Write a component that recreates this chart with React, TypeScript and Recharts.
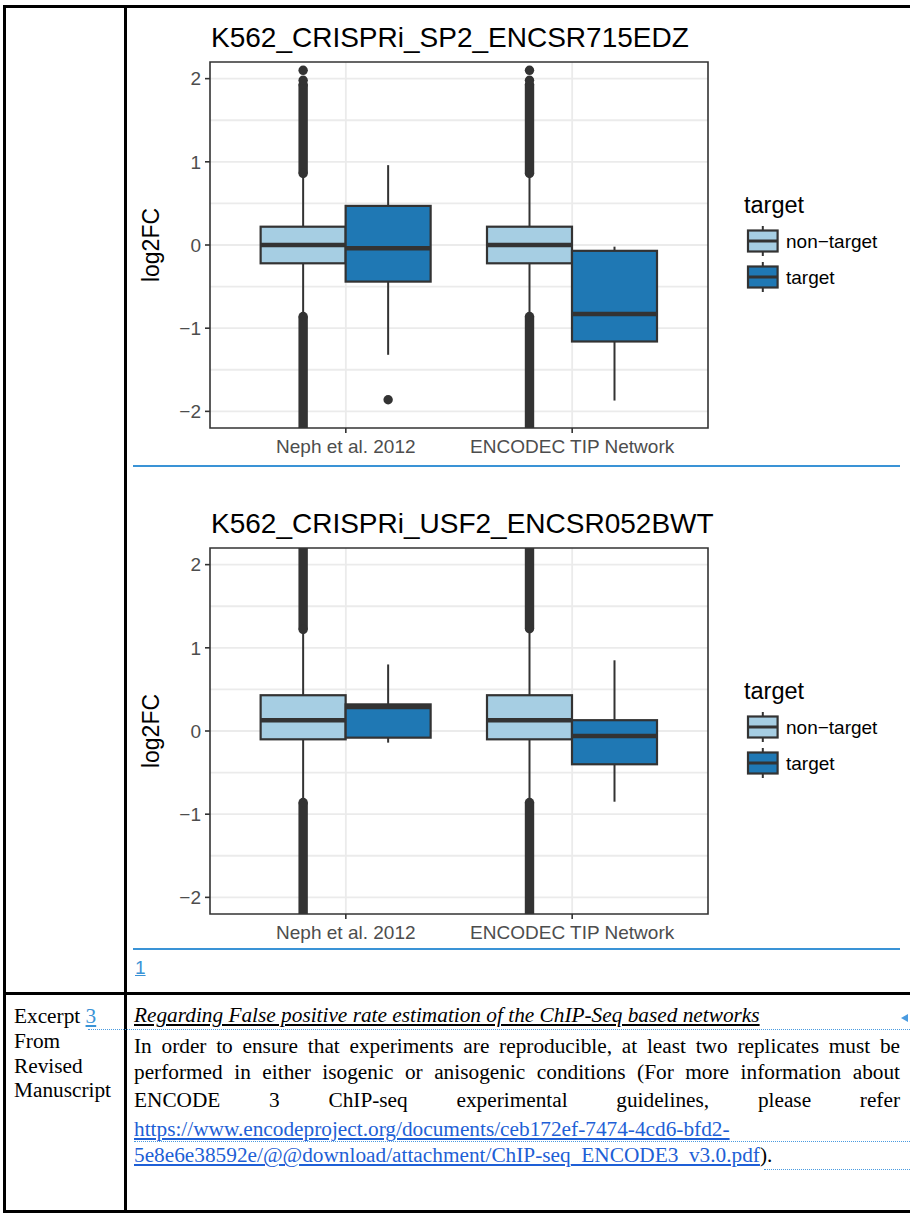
import React from "react"
import { ComposedChart, Bar, XAxis, YAxis, CartesianGrid, ReferenceArea, Legend } from "recharts"

const GROUPS = ["Neph et al. 2012", "ENCODEC TIP Network"]
const SERIES_NAMES = ["non\u2212target", "target"]
const SERIES_COLORS = ["#A6CEE3", "#1F78B4"]

// discrete positions like ggplot: groups at 1 and 2, panel from 0.4 to 2.6
const X_POS = [1, 2]
const X_DOMAIN = [0.4, 2.6]
const Y_DOMAIN = [-2.2, 2.2]
const Y_TICKS = [-2, -1, 0, 1, 2]
const Y_GRID = [-2, -1.5, -1, -0.5, 0, 0.5, 1, 1.5, 2]

// [lower whisker, Q1, median, Q3, upper whisker] per group
const sp2NonTarget = [[-0.84, -0.22, 0, 0.22, 0.84], [-0.84, -0.22, 0, 0.22, 0.84]]
const sp2Target = [[-1.32, -0.44, -0.04, 0.47, 0.96], [-1.87, -1.16, -0.83, -0.07, -0.02]]
// outliers so dense they merge into a solid bar: [from, to]
const sp2NonTargetBands = [[[0.86, 1.93], [-2.6, -0.86]], [[0.86, 1.93], [-2.6, -0.86]]]
const sp2TargetBands = [[], []]
const sp2NonTargetPoints = [[1.98, 2.1], [1.98, 2.1]]
const sp2TargetPoints = [[-1.86], []]

const usf2NonTarget = [[-0.85, -0.1, 0.13, 0.43, 1.2], [-0.85, -0.1, 0.13, 0.43, 1.21]]
const usf2Target = [[-0.14, -0.08, 0.29, 0.32, 0.8], [-0.85, -0.4, -0.06, 0.13, 0.85]]
const usf2NonTargetBands = [[[1.22, 2.6], [-2.6, -0.86]], [[1.23, 2.6], [-2.6, -0.86]]]
const usf2TargetBands = [[], []]
const usf2NonTargetPoints = [[], []]
const usf2TargetPoints = [[], []]

const INK = "#333333"
const DOT_R = 4.7
const SANS = "'Liberation Sans', Arial, sans-serif"
const SERIF = "'Liberation Serif', 'Times New Roman', serif"

type Box = { stats: number[]; bands: number[][]; points: number[] }

function buildRows(nt: number[][], t: number[][], ntBands: number[][][], tBands: number[][][], ntPts: number[][], tPts: number[][]) {
  return GROUPS.map((g, i) => ({
    group: g,
    pos: X_POS[i],
    ntRange: [nt[i][0], nt[i][4]],
    tRange: [t[i][0], t[i][4]],
    nt: { stats: nt[i], bands: ntBands[i], points: ntPts[i] },
    t: { stats: t[i], bands: tBands[i], points: tPts[i] },
  }))
}

// draws one box from the bar the library placed for the whisker range
function BoxGlyph(props: any) {
  const { x, y, width, height, fill, box } = props as { x: number; y: number; width: number; height: number; fill: string; box: Box }
  const [lo, q1, med, q3, hi] = box.stats
  const top = Math.min(y, y + height)
  const ppu = Math.abs(height) / (hi - lo)
  const Y = (v: number) => top + (hi - v) * ppu
  const edgeTop = Y(Y_DOMAIN[1])
  const edgeBot = Y(Y_DOMAIN[0])
  const cx = x + width / 2

  return (
    <g>
      {box.bands.map(([a, b], k) => {
        const yt = Math.max(Y(b), edgeTop)
        const yb = Math.min(Y(a), edgeBot)
        return (
          <g key={"b" + k}>
            <rect x={cx - DOT_R} y={yt} width={DOT_R * 2} height={yb - yt} fill={INK} />
            {Y(b) > edgeTop && <circle cx={cx} cy={yt} r={DOT_R} fill={INK} />}
            {Y(a) < edgeBot && <circle cx={cx} cy={yb} r={DOT_R} fill={INK} />}
          </g>
        )
      })}
      {box.points.map((v, k) => (
        <circle key={"p" + k} cx={cx} cy={Y(v)} r={DOT_R} fill={INK} />
      ))}
      <line x1={cx} x2={cx} y1={Y(hi)} y2={Y(q3)} stroke={INK} strokeWidth={2} />
      <line x1={cx} x2={cx} y1={Y(q1)} y2={Y(lo)} stroke={INK} strokeWidth={2} />
      <rect x={x} y={Y(q3)} width={width} height={Y(q1) - Y(q3)} fill={fill} stroke={INK} strokeWidth={2.2} />
      <line x1={x} x2={x + width} y1={Y(med)} y2={Y(med)} stroke={INK} strokeWidth={4.5} />
    </g>
  )
}

function LegendBox({ payload }: any) {
  const items = SERIES_NAMES.map((n, i) => {
    const p = (payload || []).find((e: any) => e.value === n)
    return { name: n, color: (p && p.color) || SERIES_COLORS[i] }
  })
  return (
    <svg width={170} height={110} style={{ fontFamily: SANS, display: "block" }}>
      <text x={2} y={23} fontSize={23.5} fill="#000">target</text>
      {items.map((it, i) => {
        const cy = 51 + i * 36
        return (
          <g key={it.name}>
            <line x1={20.8} x2={20.8} y1={cy - 15} y2={cy + 15} stroke={INK} strokeWidth={2} />
            <rect x={6} y={cy - 10.5} width={29.6} height={21} fill={it.color} stroke={INK} strokeWidth={2.2} />
            <line x1={6} x2={35.6} y1={cy} y2={cy} stroke={INK} strokeWidth={3} />
            <text x={44} y={cy} dy="0.35em" fontSize={19} fill="#000">{it.name}</text>
          </g>
        )
      })}
    </svg>
  )
}

function YLabel({ viewBox }: any) {
  const cx = viewBox.x + 28.5
  const cy = viewBox.y + viewBox.height / 2
  return (
    <text x={cx} y={cy} transform={`rotate(-90, ${cx}, ${cy})`} textAnchor="middle" fontSize={23} fill="#000" fontFamily={SANS}>
      log2FC
    </text>
  )
}

function BoxChart({ title, rows }: { title: string; rows: any[] }) {
  return (
    <div style={{ position: "relative", width: 780, height: 460, fontFamily: SANS }}>
      <div style={{ position: "absolute", left: 81, top: 14, fontSize: 28, lineHeight: "28px", color: "#000", whiteSpace: "nowrap" }}>
        {title}
      </div>
      <ComposedChart width={780} height={460} data={rows} margin={{ top: 52, right: 202, bottom: 12, left: 0 }} barSize={85} barGap={0}>
        <CartesianGrid horizontalValues={Y_GRID} verticalValues={X_POS} stroke="#EBEBEB" strokeWidth={1.8} />
        <XAxis
          dataKey="pos"
          type="number"
          domain={X_DOMAIN}
          allowDataOverflow
          ticks={X_POS}
          interval={0}
          tickFormatter={(v: number) => GROUPS[X_POS.indexOf(v)] ?? ""}
          axisLine={false}
          tickLine={{ stroke: INK, strokeWidth: 1.6 }}
          tickSize={5}
          tickMargin={7}
          height={30}
          tick={{ fontSize: 19, fill: "#4D4D4D" }}
        />
        <YAxis
          type="number"
          domain={Y_DOMAIN}
          allowDataOverflow
          ticks={Y_TICKS}
          width={80}
          axisLine={false}
          tickLine={{ stroke: INK, strokeWidth: 1.6 }}
          tickSize={5}
          tickMargin={4}
          tick={{ fontSize: 19, fill: "#4D4D4D" }}
          tickFormatter={(v: number) => String(v).replace("-", "\u2212")}
          label={<YLabel />}
        />
        <Bar dataKey="ntRange" name={SERIES_NAMES[0]} fill={SERIES_COLORS[0]} isAnimationActive={false}
          shape={(p: any) => <BoxGlyph {...p} box={p.payload.nt} />} />
        <Bar dataKey="tRange" name={SERIES_NAMES[1]} fill={SERIES_COLORS[1]} isAnimationActive={false}
          shape={(p: any) => <BoxGlyph {...p} box={p.payload.t} />} />
        <ReferenceArea x1={X_DOMAIN[0]} x2={X_DOMAIN[1]} y1={Y_DOMAIN[0]} y2={Y_DOMAIN[1]} fill="none" fillOpacity={0} stroke={INK} strokeWidth={1.6} />
        <Legend layout="vertical" align="center" verticalAlign="middle" content={<LegendBox />}
          wrapperStyle={{ left: 612, top: 180, width: 170, height: 110 }} />
      </ComposedChart>
    </div>
  )
}

function Line({ x, base, children, style }: { x: number; base: number; children: React.ReactNode; style?: React.CSSProperties }) {
  return (
    <div style={{ position: "absolute", left: x, top: base - 17.8, fontSize: 21.3, lineHeight: "21.3px", whiteSpace: "nowrap", fontFamily: SERIF, color: "#000", ...style }}>
      {children}
    </div>
  )
}

const rule = (l: number, t: number, w: number, h: number, c = "#000"): React.CSSProperties => ({
  position: "absolute", left: l, top: t, width: w, height: h, background: c,
})
const dotted = (l: number, t: number, w: number): React.CSSProperties => ({
  position: "absolute", left: l, top: t, width: w, height: 0, borderTop: "1.5px dotted #4A9BE0",
})

const LINK = "#1E5FD6"
const JUST: React.CSSProperties = { width: 766, textAlign: "justify", textAlignLast: "justify" }

export default function App() {
  const sp2Rows = buildRows(sp2NonTarget, sp2Target, sp2NonTargetBands, sp2TargetBands, sp2NonTargetPoints, sp2TargetPoints)
  const usf2Rows = buildRows(usf2NonTarget, usf2Target, usf2NonTargetBands, usf2TargetBands, usf2NonTargetPoints, usf2TargetPoints)

  return (
    <div style={{ position: "absolute", left: 0, top: 0, width: 910, height: 1213, background: "#fff", overflow: "hidden" }}>
      {/* table frame */}
      <div style={rule(3, 5, 907, 3)} />
      <div style={rule(3, 5, 3, 1208)} />
      <div style={rule(124, 5, 3, 1208)} />
      <div style={rule(3, 992, 907, 3)} />
      <div style={rule(3, 1210, 907, 3)} />

      <div style={{ position: "absolute", left: 130, top: 10 }}>
        <BoxChart title="K562_CRISPRi_SP2_ENCSR715EDZ" rows={sp2Rows} />
      </div>
      <div style={rule(133, 465, 767, 1.5, "#3A93D6")} />

      <div style={{ position: "absolute", left: 130, top: 496 }}>
        <BoxChart title="K562_CRISPRi_USF2_ENCSR052BWT" rows={usf2Rows} />
      </div>
      <div style={rule(133, 948, 767, 1.5, "#3A93D6")} />
      <div style={{ position: "absolute", left: 135, top: 958, fontFamily: SANS, fontSize: 19, lineHeight: "19px", color: "#3A93D6", textDecoration: "underline" }}>1</div>

      {/* excerpt row */}
      <Line x={14} base={1024}>Excerpt <span style={{ color: "#3A93D6", textDecoration: "underline" }}>3</span></Line>
      <Line x={14} base={1049}>From</Line>
      <Line x={14} base={1074}>Revised</Line>
      <Line x={14} base={1098}>Manuscript</Line>
      <div style={dotted(88, 1029, 822)} />
      <div style={{ position: "absolute", left: 901, top: 1014, width: 0, height: 0, borderTop: "4px solid transparent", borderBottom: "4px solid transparent", borderRight: "7px solid #4A9BE0" }} />

      <Line x={134} base={1023} style={{ fontStyle: "italic", textDecoration: "underline" }}>
        Regarding False positive rate estimation of the ChIP-Seq based networks
      </Line>
      <Line x={134} base={1054} style={JUST}>
        In order to ensure that experiments are reproducible, at least two replicates must be
      </Line>
      <Line x={134} base={1080} style={JUST}>
        performed in either isogenic or anisogenic conditions (For more information about
      </Line>
      <Line x={134} base={1108} style={JUST}>
        ENCODE 3 ChIP-seq experimental guidelines, please refer
      </Line>
      <Line x={134} base={1137} style={{ color: LINK, textDecoration: "underline" }}>
        https://www.encodeproject.org/documents/ceb172ef-7474-4cd6-bfd2-
      </Line>
      <div style={dotted(134, 1141, 776)} />
      <Line x={134} base={1163}>
        <span style={{ color: LINK, textDecoration: "underline" }}>5e8e6e38592e/@@download/attachment/ChIP-seq_ENCODE3_v3.0.pdf</span>).
      </Line>
      <div style={dotted(764, 1169, 146)} />
    </div>
  )
}
